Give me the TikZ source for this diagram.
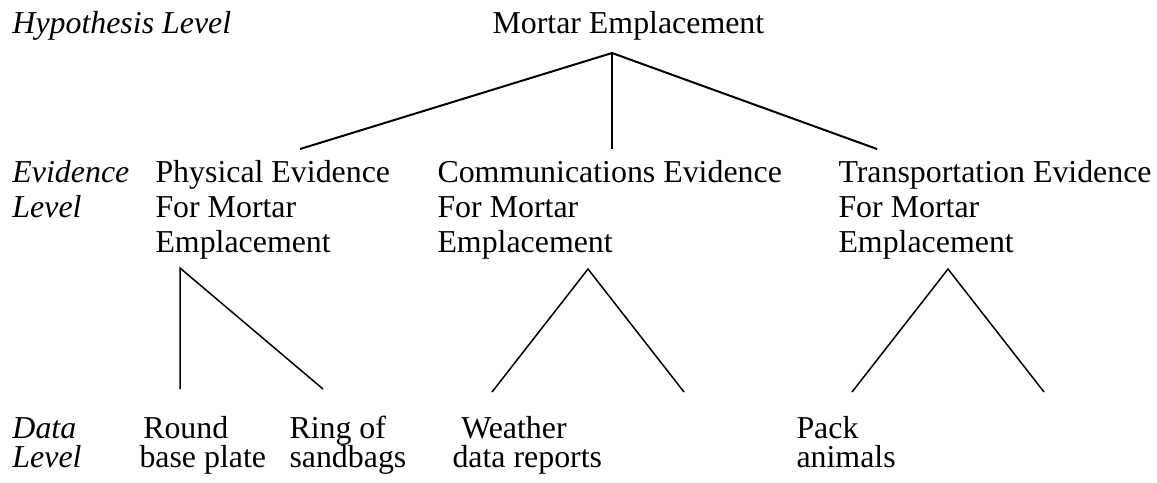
\documentclass[tikz,border=0pt]{standalone}
\usepackage{fontspec}
\setmainfont{Liberation Serif}
\usepackage{tikz}
\usetikzlibrary{positioning}

\begin{document}
\begin{tikzpicture}[x=0.4pt,y=-0.4pt]
    \tikzstyle{main}=[inner sep=0, anchor=base west, align=left, font=\fontsize{12.75}{14}\selectfont]
    \tikzstyle{data}=[main, font=\fontsize{12.75}{11.6}\selectfont]
    \tikzstyle{level}=[main, font=\fontsize{12.75}{14}\selectfont\itshape]
    \tikzstyle{datalevel}=[data, font=\fontsize{12.75}{11.6}\selectfont\itshape]
    \tikzstyle{connect}=[line width=0.8pt, line join=miter]
    \tikzstyle{leg}=[line width=0.6pt, line join=miter]
    \useasboundingbox (0,0) rectangle (1157,482);
      % levels (anchored at the baseline of the last line)
      \node[level] (hyplevel) at (12,33) {Hypothesis Level};
      \node[level] (evlevel) at (12,217) {Evidence\\Level};
      \node[datalevel] (datalevel) at (12,467) {Data\\Level};
      % hypothesis and evidence
      \node[main] (mortar) at (492,33) {Mortar Emplacement};
      \node[main] (phys) at (155,252) {Physical Evidence\\For Mortar\\Emplacement};
      \node[main] (comm) at (437,252) {Communications Evidence\\For Mortar\\Emplacement};
      \node[main] (trans) at (838,252) {Transportation Evidence\\For Mortar\\Emplacement};
      % data
      \node[data] (plate) at (139,467) {\hspace{1.5pt}Round\\base plate};
      \node[data] (sandbags) at (289,467) {Ring of\\sandbags};
      \node[data] (weather) at (452,467) {\hspace{3.5pt}Weather\\data reports};
      \node[data] (animals) at (796,467) {Pack\\animals};
      % branch points
      \coordinate (mortarfork) at (612,53);
      \coordinate (physfork) at (180,268);
      \coordinate (commfork) at (588,269);
      \coordinate (transfork) at (948,269);
      \coordinate (physin) at (300,149);
      \coordinate (commin) at (612,149);
      \coordinate (transin) at (877,149);
      \coordinate (platein) at (180,389);
      \coordinate (sandbagsin) at (323,389);
      \coordinate (weatherin) at (492,392);
      \coordinate (commout) at (684,392);
      \coordinate (animalsin) at (852,392);
      \coordinate (transout) at (1044,392);
      \draw[connect] (physin) -- (mortarfork) -- (transin);
      \draw[connect] (mortarfork) -- (commin);
      \draw[leg] (platein) -- (physfork) -- (sandbagsin);
      \draw[leg] (weatherin) -- (commfork) -- (commout);
      \draw[leg] (animalsin) -- (transfork) -- (transout);
\end{tikzpicture}
\end{document}
